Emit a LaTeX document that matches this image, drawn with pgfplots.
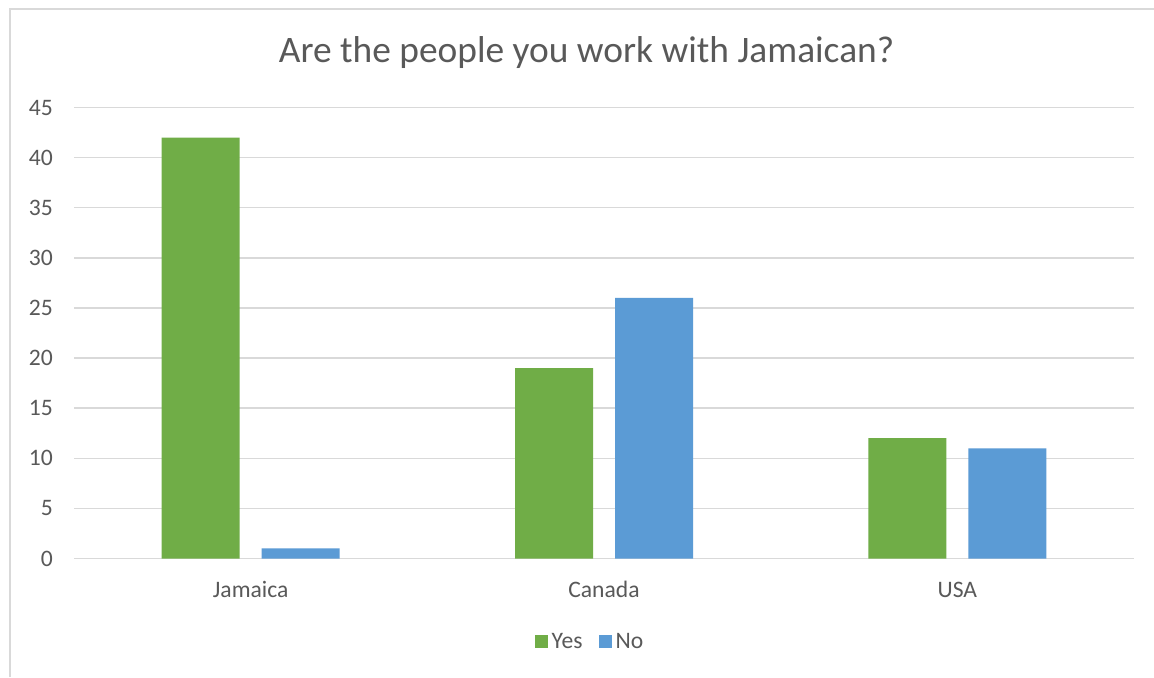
\documentclass[border=0pt]{standalone}
\usepackage{pgfplots}
\pgfplotsset{compat=1.18}
\usepackage{fontspec}
\setmainfont{Carlito}
\definecolor{yesc}{HTML}{70AD47}
\definecolor{noc}{HTML}{5B9BD5}
\definecolor{gridc}{HTML}{D9D9D9}
\definecolor{txt}{HTML}{595959}
\begin{document}
\begin{tikzpicture}
\useasboundingbox (0,0) rectangle (577pt,338.5pt);
\fill[white] (0,0) rectangle (577pt,338.5pt);
\draw[gridc, line width=1pt] (5pt,0) -- (5pt,334pt) -- (577pt,334pt);
\begin{axis}[
  at={(37pt,59.25pt)}, anchor=south west,
  scale only axis, width=530pt, height=225.5pt,
  xmin=-0.5, xmax=2.5, ymin=0, ymax=45,
  ytick={0,5,...,45},
  xtick=data, xticklabels={Jamaica,Canada,USA},
  ybar=11pt, bar width=39pt,
  axis line style={draw=none},
  major tick length=0pt,
  ymajorgrids, grid style={gridc, line width=0.75pt},
  /pgf/number format/assume math mode=true,
  ticklabel style={font=\fontsize{11.8}{14}\selectfont, text=txt},
  yticklabel style={anchor=east, inner sep=0pt, xshift=-10.35pt},
  xticklabel style={anchor=base, yshift=-19.25pt},
  title={Are the people you work with Jamaican?},
  title style={at={(0.4835,1.073)}, anchor=base, font=\fontsize{18.7}{22}\selectfont, text=txt},
  legend style={at={(0.4877,-0.185)}, anchor=center, draw=none, fill=none,
    legend columns=-1, font=\fontsize{11.8}{14}\selectfont, text=txt,
    /tikz/every even column/.append style={column sep=6pt}},
  legend image code/.code={\fill[#1] (0pt,-3.25pt) rectangle (6.5pt,3.25pt);},
]
\addplot[fill=yesc, draw=none] coordinates {(0,42) (1,19) (2,12)};
\addplot[fill=noc, draw=none] coordinates {(0,1) (1,26) (2,11)};
\legend{Yes,No}
\end{axis}
\end{tikzpicture}
\end{document}
